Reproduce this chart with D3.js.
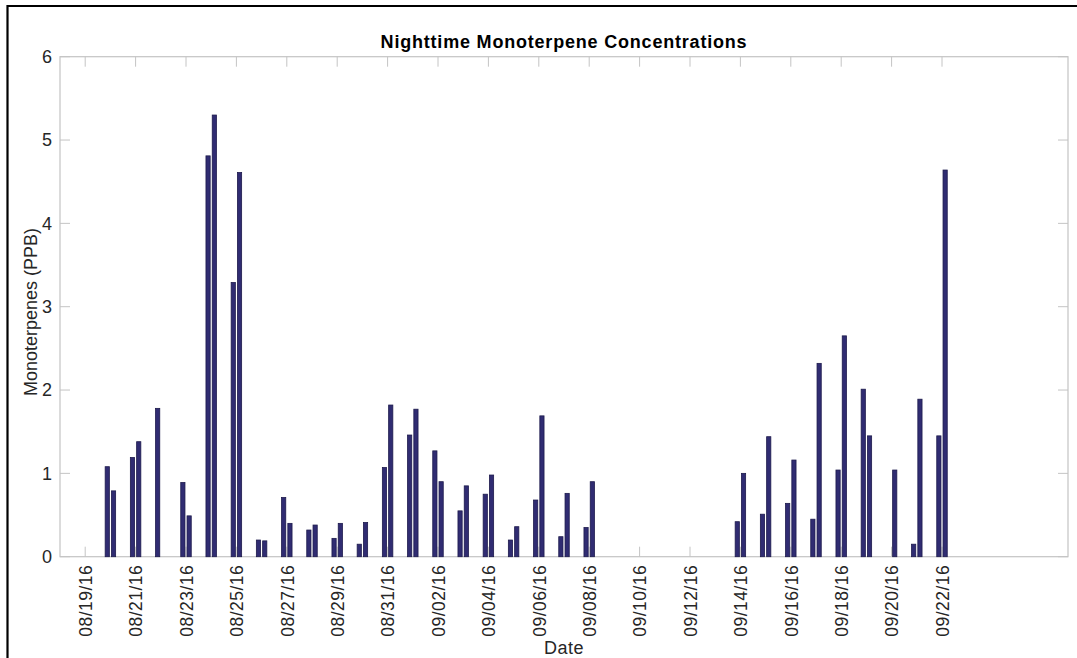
<!DOCTYPE html>
<html>
<head>
<meta charset="utf-8">
<script src="https://cdn.jsdelivr.net/npm/d3@7"></script>
<style>
  html, body { margin: 0; padding: 0; background: #fff; }
  svg { display: block; }
  text { font-family: "Liberation Sans", Arial, Helvetica, sans-serif; }
</style>
</head>
<body>
<svg id="chart" width="1077" height="658"></svg>
<script>
// Nightly sampling dates (two samples per night)
const dates = [
  "08/20/16","08/21/16","08/22/16","08/23/16","08/24/16","08/25/16","08/26/16",
  "08/27/16","08/28/16","08/29/16","08/30/16","08/31/16","09/01/16","09/02/16",
  "09/03/16","09/04/16","09/05/16","09/06/16","09/07/16","09/08/16","09/09/16",
  "09/10/16","09/11/16","09/12/16","09/13/16","09/14/16","09/15/16","09/16/16",
  "09/17/16","09/18/16","09/19/16","09/20/16","09/21/16","09/22/16"
];
// First nighttime sample (PPB)
const firstSample = [
  1.08, 1.19, 1.78, 0.89, 4.81, 3.29, 0.20,
  0.71, 0.32, 0.22, 0.15, 1.07, 1.46, 1.27,
  0.55, 0.75, 0.20, 0.68, 0.24, 0.35, 0,
  0, 0, 0, 0, 0.42, 0.51, 0.64,
  0.45, 1.04, 2.01, 0, 0.15, 1.45
];
// Second nighttime sample (PPB)
const secondSample = [
  0.79, 1.38, 0, 0.49, 5.30, 4.61, 0.19,
  0.40, 0.38, 0.40, 0.41, 1.82, 1.77, 0.90,
  0.85, 0.98, 0.36, 1.69, 0.76, 0.90, 0,
  0, 0, 0, 0, 1.00, 1.44, 1.16,
  2.32, 2.65, 1.45, 1.04, 1.89, 4.64
];
// Date axis tick labels
const tickLabels = [
  "08/19/16","08/21/16","08/23/16","08/25/16","08/27/16","08/29/16",
  "08/31/16","09/02/16","09/04/16","09/06/16","09/08/16","09/10/16",
  "09/12/16","09/14/16","09/16/16","09/18/16","09/20/16","09/22/16"
];
const xRange = ["08/18/16", "09/27/16"];
const yTicks = [0, 1, 2, 3, 4, 5, 6];
const seriesKeys = ["first", "second"];

const parse = d3.utcParse("%m/%d/%y");
const fmt = d3.utcFormat("%m/%d/%y");

const svg = d3.select("#chart");
const W = 1077, H = 658;
const m = { left: 60, right: 1068, top: 56.7, bottom: 556.7 };
const axisGrey = "#c4c4c4";
const textGrey = "#262626";
const tickLen = 10;

// outer frame edges
svg.append("path")
  .attr("d", `M7.5,${H} L7.5,6 L${W},6`)
  .attr("fill", "none")
  .attr("stroke", "#000")
  .attr("stroke-width", 2.2);

const x = d3.scaleUtc()
  .domain(xRange.map(parse))
  .range([m.left, m.right]);
const y = d3.scaleLinear()
  .domain([0, 6])
  .range([m.bottom, m.top]);

const dayW = x(d3.utcDay.offset(parse(xRange[0]), 1)) - x(parse(xRange[0]));
const inner = d3.scaleBand()
  .domain(seriesKeys)
  .range([-dayW * 0.208, dayW * 0.208])
  .paddingInner(0.33);

const rows = dates.map((d, i) => ({
  date: parse(d),
  values: [
    { key: "first", v: firstSample[i] },
    { key: "second", v: secondSample[i] }
  ]
}));

const tickDates = tickLabels.map(parse);

// axis box
svg.append("rect")
  .attr("x", m.left).attr("y", m.top)
  .attr("width", m.right - m.left).attr("height", m.bottom - m.top)
  .attr("fill", "#fff")
  .attr("stroke", axisGrey).attr("stroke-width", 1.2);

// inward ticks: bottom/top
const gTicks = svg.append("g").attr("stroke", axisGrey).attr("stroke-width", 1);
gTicks.selectAll("line.xb").data(tickDates).join("line")
  .attr("x1", d => x(d)).attr("x2", d => x(d))
  .attr("y1", m.bottom).attr("y2", m.bottom - tickLen);
gTicks.selectAll("line.xt").data(tickDates).join("line")
  .attr("class", "xt")
  .attr("x1", d => x(d)).attr("x2", d => x(d))
  .attr("y1", m.top).attr("y2", m.top + tickLen);
// inward ticks: left/right
gTicks.selectAll("line.yl").data(yTicks).join("line")
  .attr("class", "yl")
  .attr("x1", m.left).attr("x2", m.left + tickLen)
  .attr("y1", d => y(d)).attr("y2", d => y(d));
gTicks.selectAll("line.yr").data(yTicks).join("line")
  .attr("class", "yr")
  .attr("x1", m.right).attr("x2", m.right - tickLen)
  .attr("y1", d => y(d)).attr("y2", d => y(d));

// bars
const gBars = svg.append("g");
gBars.selectAll("g.day").data(rows).join("g")
  .attr("class", "day")
  .attr("transform", d => `translate(${x(d.date)},0)`)
  .selectAll("rect").data(d => d.values.filter(v => v.v > 0)).join("rect")
  .attr("x", d => inner(d.key))
  .attr("width", inner.bandwidth())
  .attr("y", d => y(d.v))
  .attr("height", d => y(0) - y(d.v))
  .attr("fill", "#302c72")
  .attr("stroke", "#1d1a4c")
  .attr("stroke-width", 0.8);

// x tick labels (rotated)
const xAxis = d3.axisBottom(x).tickValues(tickDates).tickFormat(fmt).tickSize(0);
const gx = svg.append("g")
  .attr("transform", `translate(0,${m.bottom})`)
  .call(xAxis);
gx.select(".domain").remove();
gx.selectAll("text")
  .attr("transform", "rotate(-90)")
  .attr("x", -8)
  .attr("y", 0)
  .attr("dy", "0.36em")
  .attr("text-anchor", "end")
  .attr("fill", textGrey)
  .style("font-family", "'Liberation Sans', Arial, sans-serif")
  .style("font-size", "17.5px")
  .style("letter-spacing", "0.5px");

// y tick labels
const yAxis = d3.axisLeft(y).tickValues(yTicks).tickFormat(d3.format("d")).tickSize(0);
const gy = svg.append("g")
  .attr("transform", `translate(${m.left},0)`)
  .call(yAxis);
gy.select(".domain").remove();
gy.selectAll("text")
  .attr("x", -8)
  .attr("fill", textGrey)
  .style("font-family", "'Liberation Sans', Arial, sans-serif")
  .style("font-size", "18px");

// title
svg.append("text")
  .attr("x", (m.left + m.right) / 2)
  .attr("y", 48)
  .attr("text-anchor", "middle")
  .style("font-size", "18px")
  .style("font-weight", "bold")
  .style("letter-spacing", "0.8px")
  .attr("fill", "#000")
  .text("Nighttime Monoterpene Concentrations");

// axis labels
svg.append("text")
  .attr("x", (m.left + m.right) / 2)
  .attr("y", 654)
  .attr("text-anchor", "middle")
  .style("font-size", "18px")
  .style("letter-spacing", "0.5px")
  .attr("fill", textGrey)
  .text("Date");

svg.append("text")
  .attr("transform", `translate(37,312) rotate(-90)`)
  .attr("text-anchor", "middle")
  .style("font-size", "18px")
  .attr("fill", textGrey)
  .text("Monoterpenes (PPB)");
</script>
</body>
</html>
